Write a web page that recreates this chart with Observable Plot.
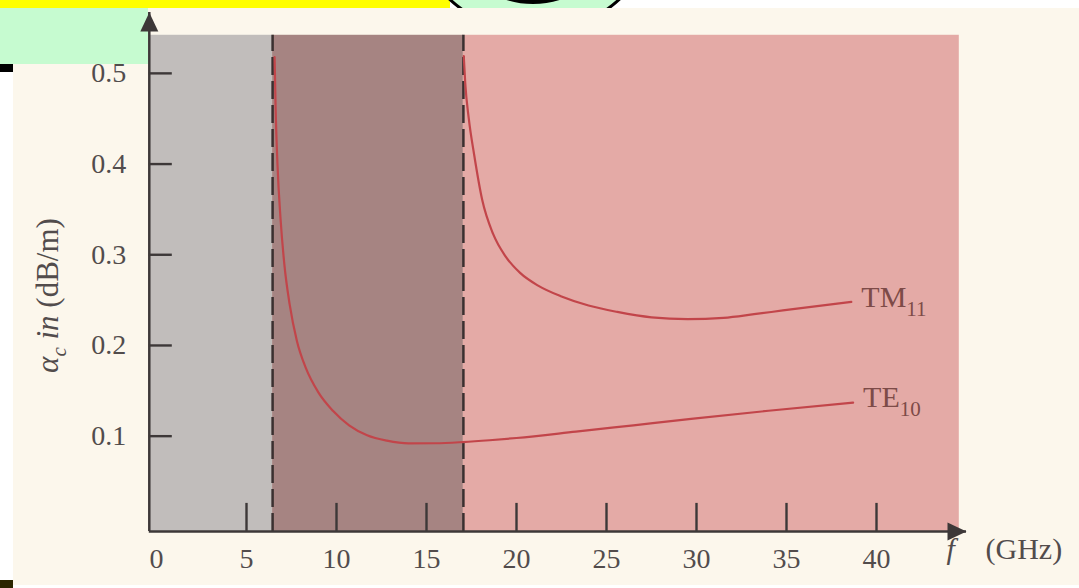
<!DOCTYPE html>
<html>
<head>
<meta charset="utf-8">
<script src="https://cdn.jsdelivr.net/npm/d3@7"></script>
<script src="https://cdn.jsdelivr.net/npm/@observablehq/plot@0.6"></script>
<style>
  html, body { margin: 0; padding: 0; background: #ffffff; }
  #page { position: relative; width: 1079px; height: 588px; overflow: hidden; background: #ffffff; }
  #paper { position: absolute; left: 13px; top: 8px; width: 1066px; height: 577px; background: #fcf7ec; }
  #greenbox { position: absolute; left: 0; top: 8px; width: 148px; height: 56px; background: #c6fbd0; }
  #blackbar { position: absolute; left: 0; top: 64px; width: 13px; height: 8px; background: #000; }
  #darkbar { position: absolute; left: 0; top: 580px; width: 13px; height: 8px; background: #2b2600; }
  #chart { position: absolute; left: 13px; top: 8px; }
  #topstrip { position: absolute; left: 0; top: 0; width: 1079px; height: 8px; overflow: hidden; background: #ffffff; }
  #yellow { position: absolute; left: 0; top: 0; width: 450px; height: 8px; background: #ffff00; }
  #ring { position: absolute; left: 408px; top: -219px; width: 253px; height: 253px; box-sizing: border-box;
          border-radius: 50%; background: #c6fbd0; border: 3px solid #000; }
  #inner { position: absolute; left: 443px; top: -176px; width: 180px; height: 180px; box-sizing: border-box;
           border-radius: 50%; border: 4px solid #000; }
</style>
</head>
<body>
<div id="page">
  <div id="paper"></div>
  <div id="greenbox"></div>
  <div id="blackbar"></div>
  <div id="darkbar"></div>
  <div id="chart"></div>
  <div id="topstrip"><div id="yellow"></div><div id="ring"></div><div id="inner"></div></div>
</div>
<script>
// ---------- data ----------
const xTicks = [5, 10, 15, 20, 25, 30, 35, 40];
const xTickLabels = [0, 5, 10, 15, 20, 25, 30, 35, 40];
const yTicks = [0.1, 0.2, 0.3, 0.4, 0.5];

const cutoffFreqs = [6.45, 17.05];          // dashed lines (GHz)
const bandNames = ["below cutoff", "TE10 only", "TE10 + TM11"];
const bandStart = [-0.4, 6.45, 17.05];
const bandEnd = [6.45, 17.05, 44.6];
const bandTop = 0.542;
const bandColors = ["#c1bdbb", "#a68482", "#e4aaa6"];

const freqTE10 = [6.56, 6.62, 6.72, 6.89, 7.1, 7.4, 7.8, 8.3, 9.0, 9.8, 10.7, 11.7, 12.8, 14.0, 15.5, 17.0, 18.5, 20.0, 23.3, 26.5, 29.7, 34.0, 38.7];
const alphaTE10 = [0.518, 0.46, 0.40, 0.34, 0.29, 0.245, 0.205, 0.175, 0.148, 0.128, 0.112, 0.101, 0.095, 0.092, 0.0922, 0.0935, 0.0955, 0.098, 0.105, 0.112, 0.119, 0.128, 0.137];

const freqTM11 = [17.07, 17.15, 17.35, 17.65, 18.1, 18.7, 19.4, 20.2, 21.2, 22.5, 24.0, 25.6, 27.5, 29.5, 31.5, 33.2, 34.8, 38.6];
const alphaTM11 = [0.519, 0.49, 0.45, 0.41, 0.36, 0.323, 0.298, 0.28, 0.266, 0.254, 0.244, 0.237, 0.231, 0.229, 0.2305, 0.2345, 0.2386, 0.248];

const modeNames = ["TE10", "TM11"];

// ---------- layout ----------
const xDomain = [-0.4, 45];
const yDomain = [-0.005, 0.567];
const W = 1066, H = 577;
const serif = "'Liberation Serif', 'DejaVu Serif', serif";
const axisColor = "#3d3838";
const labelColor = "#524c4c";
const curveColor = "#c2454a";
const modeLabelColor = "#7d4b48";

const bands = bandNames.map((n, i) => ({name: n, x1: bandStart[i], x2: bandEnd[i], y1: yDomain[0], y2: bandTop, fill: bandColors[i]}));
const te = freqTE10.map((f, i) => ({f, a: alphaTE10[i]}));
const tm = freqTM11.map((f, i) => ({f, a: alphaTM11[i]}));
const ends = [
  {f: freqTE10[freqTE10.length - 1], a: alphaTE10[alphaTE10.length - 1], label: modeNames[0]},
  {f: freqTM11[freqTM11.length - 1], a: alphaTM11[alphaTM11.length - 1], label: modeNames[1]}
];

const upTri = {draw(ctx) { ctx.moveTo(0, 0); ctx.lineTo(-9, 19); ctx.lineTo(9, 19); ctx.closePath(); }};
const rightTri = {draw(ctx) { ctx.moveTo(0, 0); ctx.lineTo(-19, -9); ctx.lineTo(-19, 9); ctx.closePath(); }};

const chart = Plot.plot({
  width: W,
  height: H,
  marginLeft: 135.8,
  marginRight: 113,
  marginTop: 4.1,
  marginBottom: 54.1,
  style: {background: "transparent", fontFamily: serif},
  x: {domain: xDomain, axis: null},
  y: {domain: yDomain, axis: null},
  marks: [
    Plot.rect(bands, {x1: "x1", x2: "x2", y1: "y1", y2: "y2", fill: "fill"}),
    Plot.ruleX(cutoffFreqs, {y1: yDomain[0], y2: bandTop, stroke: "#3a3030", strokeWidth: 2.5, strokeDasharray: "18,6"}),
    Plot.line(te, {x: "f", y: "a", stroke: curveColor, strokeWidth: 2.2, curve: "monotone-x"}),
    Plot.line(tm, {x: "f", y: "a", stroke: curveColor, strokeWidth: 2.2, curve: "monotone-x"}),
    Plot.text(ends, {x: "f", y: "a", text: "label", textAnchor: "start", dx: 10, dy: -5, fontSize: 30, fill: modeLabelColor, fontFamily: serif}),
    // axis lines with arrowheads
    Plot.ruleX([xDomain[0]], {stroke: axisColor, strokeWidth: 2.5}),
    Plot.ruleY([yDomain[0]], {stroke: axisColor, strokeWidth: 2.5}),
    Plot.dot([{x: xDomain[0], y: yDomain[1]}], {x: "x", y: "y", symbol: upTri, r: 8, fill: axisColor, stroke: "none"}),
    Plot.dot([{x: xDomain[1], y: yDomain[0]}], {x: "x", y: "y", symbol: rightTri, r: 8, fill: axisColor, stroke: "none"}),
    // inward ticks
    Plot.axisX(xTicks, {anchor: "bottom", tickSize: -28, tickFormat: () => "", stroke: axisColor, strokeWidth: 2.4, label: null}),
    Plot.axisY(yTicks, {anchor: "left", tickSize: -23, tickFormat: () => "", stroke: axisColor, strokeWidth: 2.4, label: null}),
    // tick labels
    Plot.axisX(xTickLabels, {anchor: "bottom", tickSize: 0, tickPadding: 17, fontSize: 28, fill: labelColor, label: null, fontFamily: serif}),
    Plot.axisY(yTicks, {anchor: "left", tickSize: 0, tickPadding: 23, fontSize: 28, fill: labelColor, label: null, fontFamily: serif, tickFormat: d3.format(".1f")}),
    // axis titles
    Plot.text(["YTITLE"], {frameAnchor: "left", dx: -100.8, dy: 23.5, rotate: -90, textAnchor: "middle", fontSize: 31, fill: labelColor, fontFamily: serif}),
    Plot.text(["f"], {frameAnchor: "bottom-right", dx: -20, dy: 27.5, textAnchor: "start", fontSize: 30, fontStyle: "italic", fill: labelColor, fontFamily: serif}),
    Plot.text(["(GHz)"], {frameAnchor: "bottom-right", dx: 19, dy: 27.5, textAnchor: "start", fontSize: 30, fill: labelColor, fontFamily: serif})
  ]
});

// rich text: subscripts and italics
const NS = "http://www.w3.org/2000/svg";
function rich(el, parts) {
  el.textContent = "";
  for (const p of parts) {
    const t = document.createElementNS(NS, "tspan");
    t.textContent = p.t;
    if (p.it) t.setAttribute("font-style", "italic");
    if (p.size) t.setAttribute("font-size", p.size);
    if (p.dy) t.setAttribute("dy", p.dy);
    el.appendChild(t);
  }
}
chart.querySelectorAll("text").forEach(el => {
  const s = el.textContent;
  if (s === "TM11") rich(el, [{t: "TM"}, {t: "11", size: 21, dy: 9}]);
  else if (s === "TE10") rich(el, [{t: "TE"}, {t: "10", size: 21, dy: 9}]);
  else if (s === "YTITLE") rich(el, [{t: "α", it: true}, {t: "c", it: true, size: 21, dy: 8}, {t: " in", it: true, dy: -8}, {t: " (dB/m)"}]);
});

document.getElementById("chart").appendChild(chart);
</script>
</body>
</html>
